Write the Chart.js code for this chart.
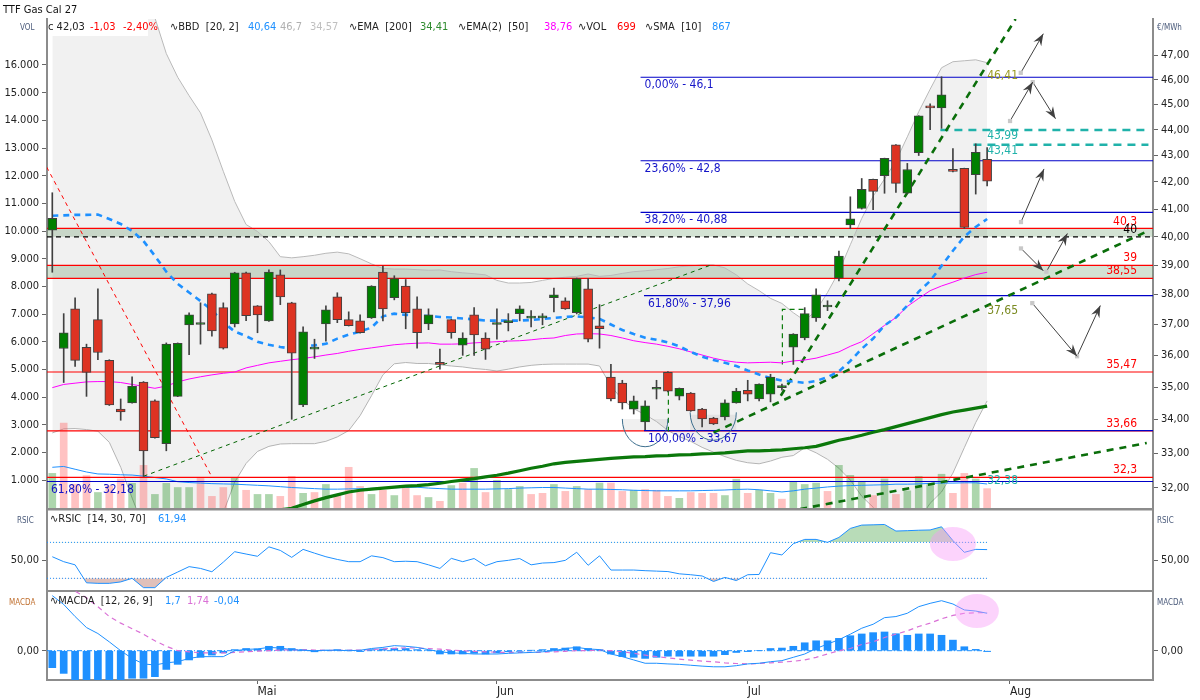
<!DOCTYPE html>
<html><head><meta charset="utf-8">
<title>TTF Gas Cal 27</title>
<script src="https://cdn.jsdelivr.net/npm/chart.js@4.4.1/dist/chart.umd.min.js"></script>
<style>
html,body{margin:0;padding:0;background:#fff;}
body{width:1200px;height:700px;position:relative;overflow:hidden;font-family:"DejaVu Sans Condensed","Liberation Sans",Arial,sans-serif;}
canvas{position:absolute;left:0;}
#c1{top:0}#c2{top:508px}#c3{top:590px}
.t{position:absolute;white-space:nowrap;font-size:11px;line-height:12px;color:#222}
.s{position:absolute;white-space:nowrap;font-size:8px;line-height:9px;color:#4a5a7a}
</style></head><body>
<canvas id="c1" width="1200" height="512"></canvas>
<canvas id="c2" width="1200" height="84"></canvas>
<canvas id="c3" width="1200" height="110"></canvas>
<div style="position:absolute;left:48px;top:19px;width:100px;height:17px;background:#fff"></div>
<div class="t" style="left:3px;top:4px;color:#111">TTF Gas Cal 27</div>
<div class="s" style="left:20px;top:23px">VOL</div>
<div class="s" style="left:1157px;top:23px">€/MWh</div>
<div class="s" style="left:17px;top:516px">RSIC</div>
<div class="s" style="left:1157px;top:516px">RSIC</div>
<div class="s" style="left:9px;top:598px;color:#c07030">MACDA</div>
<div class="s" style="left:1157px;top:598px">MACDA</div>
<div class="t" style="left:48px;top:21px">c 42,03</div>
<div class="t" style="left:90px;top:21px;color:#f00">-1,03</div>
<div class="t" style="left:123px;top:21px;color:#f00">-2,40%</div>
<div class="t" style="left:170px;top:21px">∿BBD&nbsp; [20, 2]</div>
<div class="t" style="left:248px;top:21px;color:#1e90ff">40,64</div>
<div class="t" style="left:280px;top:21px;color:#b0b0b0">46,7</div>
<div class="t" style="left:310px;top:21px;color:#c0c0c0">34,57</div>
<div class="t" style="left:349px;top:21px">∿EMA&nbsp; [200]</div>
<div class="t" style="left:420px;top:21px;color:#2e8b2e">34,41</div>
<div class="t" style="left:458px;top:21px">∿EMA(2)&nbsp; [50]</div>
<div class="t" style="left:544px;top:21px;color:#ff00ff">38,76</div>
<div class="t" style="left:578px;top:21px">∿VOL</div>
<div class="t" style="left:617px;top:21px;color:#f00">699</div>
<div class="t" style="left:645px;top:21px">∿SMA&nbsp; [10]</div>
<div class="t" style="left:712px;top:21px;color:#1e90ff">867</div>
<div class="t" style="left:50px;top:513px">∿RSIC&nbsp; [14, 30, 70]</div>
<div class="t" style="left:158px;top:513px;color:#1e90ff">61,94</div>
<div class="t" style="left:50px;top:595px">∿MACDA&nbsp; [12, 26, 9]</div>
<div class="t" style="left:165px;top:595px;color:#1e90ff">1,7</div>
<div class="t" style="left:187px;top:595px;color:#da70d6">1,74</div>
<div class="t" style="left:214px;top:595px;color:#1e90ff">-0,04</div>
<script>
// ---------------- DATA ----------------
const open = [40.24,36.22,37.52,36.26,37.16,35.84,34.32,34.51,35.15,34.57,
33.28,34.71,36.99,37.00,38.02,37.56,37.02,38.74,37.62,37.12,
38.67,37.72,34.45,36.20,37.02,37.92,37.16,37.12,37.22,38.77,
37.89,38.29,37.52,37.02,35.78,37.16,36.33,37.32,36.56,37.00,
37.06,37.36,37.21,37.22,37.89,37.79,37.39,38.19,36.96,35.31,
35.12,34.32,33.93,34.93,35.46,34.72,34.81,34.32,34.05,34.08,
34.51,34.90,34.63,34.78,34.98,36.26,36.56,37.22,37.58,38.56,
40.43,41.02,42.10,42.24,43.41,41.58,43.11,44.94,44.86,42.47,
42.51,42.27,42.85];
const high = [41.60,37.36,37.89,36.36,38.19,35.86,34.63,35.32,35.17,34.60,
36.40,36.40,37.39,37.72,38.05,37.72,38.76,38.77,37.63,38.84,
38.84,37.74,36.92,36.52,37.62,38.06,37.42,37.32,38.30,38.97,
38.64,38.51,37.92,37.52,36.20,37.17,36.73,37.56,36.73,37.52,
37.36,37.62,37.46,37.36,38.22,37.89,38.56,38.54,37.66,35.71,
35.21,34.72,34.57,35.21,35.48,34.97,34.83,34.34,34.07,34.60,
34.96,35.21,35.10,35.40,35.09,36.70,37.56,38.19,37.79,39.50,
41.45,42.13,42.11,42.90,43.42,42.70,44.55,45.02,46.12,43.27,
42.52,43.45,43.30];
const low = [38.76,35.14,35.65,34.71,35.86,34.43,33.98,34.50,32.33,33.44,
33.07,34.70,36.02,36.36,36.62,36.20,36.92,37.13,36.73,37.10,
37.66,34.01,34.39,35.90,36.46,37.06,36.95,36.72,37.20,37.12,
37.82,36.86,36.23,36.83,35.56,36.55,36.00,36.00,35.87,36.52,
36.79,37.12,36.92,36.99,37.42,37.50,37.35,36.43,36.23,34.57,
34.32,34.17,33.70,34.63,34.85,34.60,34.25,33.78,33.85,33.99,
34.50,34.57,34.57,34.54,34.90,35.71,36.50,37.10,37.46,38.46,
40.29,41.00,40.98,41.58,41.61,41.57,43.00,44.00,44.05,42.38,
40.30,41.55,41.85];
const close = [40.66,36.73,35.84,35.46,36.09,34.45,34.23,35.02,33.07,33.46,
36.36,36.39,37.32,37.03,36.79,36.23,38.74,37.29,37.32,38.77,
37.92,36.07,36.76,36.21,37.49,37.16,36.96,36.73,38.29,37.52,
38.54,37.39,36.73,37.32,35.71,36.73,36.56,36.66,36.20,37.02,
37.07,37.52,37.22,37.24,37.99,37.52,38.54,36.52,36.86,34.63,
34.51,34.57,34.42,34.99,34.87,34.96,34.26,34.02,33.87,34.51,
34.87,34.78,35.09,35.31,35.00,36.69,37.36,37.99,37.60,39.32,
40.65,41.73,41.65,42.89,41.95,42.47,44.54,44.86,45.38,42.40,
40.34,43.12,42.03];
const volume = [1250,3070,860,1170,560,800,1050,890,1540,490,
890,740,740,1070,420,740,1100,640,490,490,
420,1140,530,560,850,490,1470,780,490,640,
450,820,450,380,240,810,900,1430,560,1000,
670,780,490,530,850,600,780,670,900,900,
600,640,670,640,420,350,560,530,530,450,
1040,530,640,530,320,960,850,900,600,1540,
1180,930,450,1050,490,620,1140,840,1220,530,
1250,1050,699];
const volUp = [1,0,0,0,1,0,0,1,0,1, 1,1,1,0,0,0,1,0,1,1, 0,0,1,0,1,0,0,0,1,0,
1,0,0,1,0,1,0,1,0,1, 1,1,0,0,1,0,1,0,1,0, 0,1,0,0,0,1,0,0,0,1,
1,0,1,1,0,1,1,1,0,1, 1,1,0,1,0,1,1,1,1,0, 0,1,0];
const volSma = [1470,1500,1400,1300,1230,1220,1200,1190,1150,1100,
1050,950,920,900,880,870,860,840,820,800,
770,740,720,700,680,680,690,700,710,720,
730,740,750,720,700,680,680,680,680,690,
700,720,730,740,740,720,700,680,680,670,
660,640,630,620,620,620,620,630,640,650,
670,680,660,620,580,620,680,720,760,790,
810,820,830,840,860,860,870,890,900,900,
910,910,867];
const bbUpper = [52.0,53.0,53.5,53.5,53.0,52.5,51.5,50.5,49.6,48.6,
47.08,46.10,45.35,44.66,43.60,42.40,41.28,40.44,40.19,39.83,
39.30,39.26,39.30,39.35,39.42,39.46,39.40,39.23,39.05,38.89,
38.87,38.87,38.85,38.83,38.84,38.78,38.74,38.71,38.67,38.48,
38.39,38.39,38.41,38.48,38.55,38.59,38.62,38.70,38.62,38.65,
38.72,38.78,38.81,38.85,38.89,38.95,38.98,39.01,39.01,38.91,
38.67,38.36,38.13,37.87,37.70,37.39,37.13,37.46,38.07,38.78,
39.72,40.66,41.47,42.11,42.79,43.72,44.71,45.61,46.49,46.74,
46.78,46.82,46.70];
const bbMid = [40.76,40.77,40.79,40.79,40.80,40.64,40.46,40.21,39.85,39.33,
38.78,38.36,38.07,37.78,37.48,37.07,36.77,36.62,36.44,36.34,
36.27,36.21,36.31,36.32,36.37,36.54,36.67,36.77,36.90,37.27,
37.36,37.32,37.31,37.28,37.25,37.23,37.20,37.17,37.13,37.13,
37.13,37.13,37.15,37.18,37.22,37.25,37.27,37.23,37.19,37.00,
36.82,36.69,36.57,36.50,36.42,36.29,36.11,35.96,35.85,35.76,
35.66,35.52,35.39,35.28,35.20,35.17,35.13,35.19,35.31,35.49,
35.82,36.21,36.54,36.97,37.23,37.63,38.10,38.46,38.98,39.51,
40.01,40.35,40.64];
const bbLower = [33.60,33.72,33.73,33.70,33.65,33.32,32.59,31.71,30.90,30.40,
30.10,30.00,30.00,30.20,30.60,31.30,32.16,32.70,33.05,33.20,
33.27,33.28,33.28,33.28,33.35,33.48,33.67,34.12,34.73,35.38,
35.73,35.77,35.74,35.74,35.70,35.66,35.63,35.58,35.55,35.50,
35.56,35.63,35.68,35.71,35.72,35.72,35.72,35.72,35.66,35.03,
34.61,34.33,34.15,33.94,33.67,33.49,33.35,33.17,33.03,32.90,
32.79,32.72,32.69,32.77,32.88,32.93,33.16,33.01,32.82,32.56,
32.22,31.76,31.45,31.10,30.90,30.90,31.10,31.56,31.88,32.42,
33.16,33.91,34.57];
const ema50 = [34.98,35.08,35.12,35.16,35.17,35.17,35.14,35.08,35.02,34.96,
35.03,35.16,35.25,35.32,35.38,35.43,35.47,35.60,35.68,35.76,
35.81,35.86,35.90,35.95,36.01,36.06,36.13,36.19,36.24,36.29,
36.34,36.37,36.39,36.40,36.36,36.36,36.37,36.40,36.42,36.44,
36.46,36.47,36.50,36.54,36.56,36.64,36.69,36.70,36.69,36.64,
36.56,36.47,36.41,36.36,36.29,36.21,36.11,36.01,35.91,35.83,
35.78,35.76,35.77,35.78,35.76,35.82,35.85,35.91,36.01,36.11,
36.29,36.44,36.70,36.97,37.23,37.60,37.87,38.13,38.29,38.42,
38.56,38.68,38.76];
const ema200 = [null,null,null,null,null,null,null,null,null,null,
null,null,null,null,null,null,null,null,null,null,
31.38,31.42,31.53,31.63,31.72,31.80,31.88,31.93,31.96,31.99,
32.02,32.05,32.06,32.09,32.13,32.18,32.22,32.26,32.31,32.36,
32.42,32.49,32.56,32.62,32.69,32.73,32.76,32.79,32.82,32.85,
32.87,32.89,32.90,32.92,32.93,32.95,32.96,32.98,32.99,33.01,
33.04,33.07,33.07,33.08,33.10,33.13,33.16,33.20,33.29,33.38,
33.45,33.53,33.62,33.70,33.79,33.88,33.97,34.06,34.15,34.23,
34.29,34.35,34.41];
const rsi = [54,48.5,45,25,24.4,24.4,26,30,19.6,19.6,
31,37,43,41,37.3,48,59.6,57,54.5,65,
61,53.3,62.2,58,54,51,48.5,48.5,55,53,
48.5,49,48.5,45,41,52.2,48.5,52,44,48.5,
50,52,45,47,47.5,50,59,44.5,55,39.2,
39.2,39.2,38.5,38,37.5,35,34,32.6,26.5,31,
27.5,34,34.3,58.5,56,68.5,73.3,73.3,70,75.5,
85.5,89.2,89.5,89.9,82.6,83,83.5,83.8,87.3,72,
58.9,62.2,61.94];
const macd = [2.5,2.1,1.55,1.05,0.78,0.4,0.0,-0.35,-0.6,-0.65,
-0.55,-0.5,-0.35,-0.27,-0.27,-0.27,0.0,0.06,0.08,0.15,
0.12,0.05,0.02,0.0,0.02,0.02,0.0,0.02,0.1,0.15,
0.23,0.2,0.15,0.05,-0.05,-0.1,-0.12,-0.15,-0.15,-0.15,
-0.12,-0.1,-0.08,-0.05,0.0,0.1,0.15,0.08,0.05,-0.15,
-0.27,-0.42,-0.57,-0.57,-0.6,-0.62,-0.66,-0.7,-0.73,-0.73,
-0.68,-0.6,-0.57,-0.5,-0.45,-0.3,-0.15,0.1,0.3,0.5,
0.75,1.02,1.2,1.5,1.55,1.7,2.0,2.15,2.27,2.12,
1.85,1.8,1.7];
const signal = [3.3,3.0,2.7,2.4,2.0,1.55,1.25,1.0,0.75,0.45,
0.2,0.0,-0.05,-0.1,-0.1,-0.1,-0.08,-0.05,-0.02,0.0,
0.03,0.04,0.04,0.03,0.02,0.02,0.02,0.03,0.05,0.08,
0.11,0.13,0.12,0.1,0.07,0.03,0.0,-0.03,-0.05,-0.07,
-0.08,-0.08,-0.08,-0.07,-0.05,-0.03,0.0,0.01,0.02,0.0,
-0.05,-0.12,-0.2,-0.27,-0.33,-0.38,-0.43,-0.47,-0.5,-0.55,
-0.58,-0.6,-0.58,-0.55,-0.52,-0.48,-0.42,-0.3,-0.15,0.0,
0.1,0.28,0.4,0.6,0.75,0.9,1.1,1.25,1.45,1.6,
1.7,1.72,1.74];
const hist = [-0.77,-1.03,-1.4,-1.4,-1.4,-1.4,-1.4,-1.25,-1.25,-1.18,
-0.85,-0.62,-0.42,-0.3,-0.2,-0.1,0.05,0.1,0.08,0.2,
0.2,0.1,0.05,-0.05,0.02,0.05,0.03,-0.04,0.05,0.08,
0.1,0.1,0.05,0.02,-0.15,-0.15,-0.15,-0.12,-0.15,-0.1,
-0.05,-0.03,0.02,0.05,0.1,0.12,0.18,0.1,0.05,-0.15,
-0.27,-0.3,-0.35,-0.3,-0.25,-0.25,-0.25,-0.25,-0.25,-0.18,
-0.08,-0.04,0.0,0.1,0.12,0.2,0.36,0.45,0.45,0.56,
0.68,0.76,0.82,0.85,0.77,0.7,0.76,0.76,0.7,0.48,
0.18,0.06,-0.04];

const monthLabels = ['Mai','Jun','Jul','Aug'];
const monthPos = [18,39,61,84];
const priceTicks = [32,33,34,35,36,37,38,39,40,41,42,43,44,45,46,47];
const volTicks = [1000,2000,3000,4000,5000,6000,7000,8000,9000,10000,11000,12000,13000,14000,15000,16000];

// support / resistance & fibonacci levels
const redLevels = [40.3, 39, 38.55, 35.47, 33.66, 32.3];
const redNames = ['40,3','39','38,55','35,47','33,66','32,3'];
const pivotLevel = 40;
const fibLevels = [46.1, 42.8, 40.88, 37.96, 33.67, 32.18];
const fibNames = ['0,00% - 46,1','23,60% - 42,8','38,20% - 40,88','61,80% - 37,96','100,00% - 33,67','61,80% - 32,18'];
const fibFrom = [51.6, 51.6, 51.6, 51.9, 51.9, -0.47];
const cyanLevels = [43.99, 43.41];
const cyanFrom = [77.9, 80.8];
const markValues = [46.41, 43.99, 43.41, 37.65, 32.38];
const markNames = ['46,41','43,99','43,41','37,65','32,38'];
const zones = [[40.0, 40.3], [38.55, 39.0]];
const boxes = [[50.0, 54.0, 33.67, 34.02], [55.95, 60.0, 33.67, 34.15]];
const arcs = [[50.0, 54.0, 34.02, 33.19], [55.95, 60.0, 34.22, 33.38]];
const trendRed = [[-0.49, 42.56], [14.0, 32.31]];
const trendThin = [[8.0, 32.33], [57.9, 39.03]];
const trendSteep = [[63.9, 34.73], [84.5, 48.55]];
const trendMid = [[58.0, 33.61], [96.0, 40.19]];
const trendLow = [[65.6, 31.40], [96.0, 33.30]];
const markV1 = [[54.04, 35.45], [54.04, 33.64]];
const markV2 = [[65.9, 37.5], [64.04, 37.5], [64.04, 35.71]];
const arrowSegs = [
  [[84.95,46.28],[86.93,47.92]],
  [[84.01,44.34],[86.0,45.9]],
  [[86.0,45.9],[88.0,44.43]],
  [[84.97,40.53],[86.99,42.49]],
  [[84.97,39.59],[86.93,38.81]],
  [[87.2,38.78],[89.04,40.12]],
  [[85.96,37.71],[89.89,35.97]],
  [[89.89,35.97],[91.93,37.63]]
];
const rsiCircle = [79.0, 68.1];
const macdCircle = [81.1, 1.8];

// ---------------- CHARTS ----------------
const X_MIN = -0.465, X_MAX = 96.55;
const FONT = '"DejaVu Sans Condensed","Liberation Sans",Arial,sans-serif';
Chart.defaults.font.family = FONT;
Chart.defaults.font.size = 11;
Chart.defaults.color = '#222';
Chart.defaults.animation = false;

const xy = arr => arr.map((v, i) => ({x: i, y: v}));
const fmt2 = v => Number(v).toFixed(2).replace('.', ',');
const fmtVol = v => String(v).replace(/\B(?=(\d{3})+(?!\d))/g, '.');
const fitY = s => { s.width = 47; s.paddingTop = 0; s.paddingBottom = 0; };
const setTicks = list => s => { s.ticks = list.map(v => ({value: v})); };
function yAxis(pos, min, max, ticks, cb, type) {
  return {
    type: type || 'linear', position: pos, min: min, max: max,
    afterBuildTicks: setTicks(ticks), afterFit: fitY,
    ticks: {callback: cb, autoSkip: false, padding: 3, color: '#222', font: {size: 11}},
    grid: {drawOnChartArea: false, drawTicks: true, tickLength: 5, color: '#666', offset: false},
    border: {display: true, color: '#8c8c8c', width: 2}
  };
}
const xHidden = {type: 'linear', min: X_MIN, max: X_MAX, display: false, offset: false, grid: {offset: false}};
function seg(pts, color, width, dash, order, axis, extra) {
  return Object.assign({
    type: 'line', yAxisID: axis || 'yP', data: pts.map(p => ({x: p[0], y: p[1]})),
    borderColor: color, borderWidth: width, borderDash: dash || [], pointRadius: 0,
    fill: false, order: order, tension: 0
  }, extra || {});
}
function txt(ctx, s, x, y, color, align, base, size) {
  ctx.font = (size || 12) + 'px ' + FONT;
  ctx.fillStyle = color; ctx.textAlign = align; ctx.textBaseline = base;
  ctx.fillText(s, x, y);
}
const baseOpts = {
  responsive: false, animation: false, events: [],
  plugins: {legend: {display: false}, tooltip: {enabled: false}}
};

// ---- main price chart ----
const idx = open.map((_, i) => i);
const mainDs = [];
mainDs.push({type: 'line', yAxisID: 'yP', data: xy(bbUpper), borderColor: '#b9b9b9', borderWidth: 1, pointRadius: 0, fill: '+1', backgroundColor: 'rgba(0,0,0,0.055)', order: 30});
mainDs.push({type: 'line', yAxisID: 'yP', data: xy(bbLower), borderColor: '#b9b9b9', borderWidth: 1, pointRadius: 0, fill: false, order: 31});
mainDs.push({type: 'bar', yAxisID: 'yV', data: xy(volume), backgroundColor: volUp.map(u => u ? 'rgba(0,128,0,0.32)' : 'rgba(255,70,70,0.33)'), barThickness: 7, grouped: false, order: 20});
mainDs.push({type: 'line', yAxisID: 'yV', data: xy(volSma), borderColor: '#1e90ff', borderWidth: 1, pointRadius: 0, fill: false, order: 19});
redLevels.forEach(v => mainDs.push(seg([[X_MIN, v], [X_MAX, v]], '#ff0000', 1.2, [], 16)));
mainDs.push(seg([[X_MIN, pivotLevel], [X_MAX, pivotLevel]], '#000', 1.2, [5, 4], 16));
fibLevels.forEach((v, k) => mainDs.push(seg([[fibFrom[k], v], [X_MAX, v]], '#0000c8', 1.2, [], 15)));
cyanLevels.forEach((v, k) => mainDs.push(seg([[cyanFrom[k], v], [X_MAX - 0.4, v]], '#20b2aa', 2.5, [8, 6], 14)));
mainDs.push(seg(trendRed, '#ff0000', 1, [4, 4], 13));
mainDs.push(seg(trendThin, '#006400', 1, [4, 4], 13));
mainDs.push(seg(trendSteep, '#0a6e0a', 2.6, [7, 6], 12));
mainDs.push(seg(trendMid, '#0a6e0a', 2.6, [7, 6], 12));
mainDs.push(seg(trendLow, '#0a6e0a', 2.6, [7, 6], 12));
mainDs.push(seg(markV1, '#0a7a0a', 1.2, [5, 4], 12));
mainDs.push(seg(markV2, '#0a7a0a', 1.2, [5, 4], 12));
mainDs.push({type: 'line', yAxisID: 'yP', data: xy(ema200), borderColor: '#0b780b', borderWidth: 3.2, pointRadius: 0, fill: false, order: 10, spanGaps: false});
mainDs.push({type: 'line', yAxisID: 'yP', data: xy(ema50), borderColor: '#ff00ff', borderWidth: 1, pointRadius: 0, fill: false, order: 10});
mainDs.push({type: 'line', yAxisID: 'yP', data: xy(bbMid), borderColor: '#1e90ff', borderWidth: 2.6, borderDash: [6, 5], pointRadius: 0, fill: false, order: 9});
arrowSegs.forEach(s => mainDs.push(seg(s, '#404040', 1, [], 8, 'yP', {
  pointRadius: [3, 0], pointStyle: 'rect', pointBackgroundColor: '#c8c8c8', pointBorderColor: '#c8c8c8', pointBorderWidth: 0
})));
mainDs.push({type: 'bar', yAxisID: 'yP', data: idx.map(i => ({x: i, y: [low[i], high[i]]})), backgroundColor: '#404040', barThickness: 1, grouped: false, order: 2});
mainDs.push({type: 'bar', yAxisID: 'yP', data: idx.map(i => ({x: i, y: [open[i], close[i]]})),
  backgroundColor: idx.map(i => close[i] >= open[i] ? '#008000' : '#dd3322'),
  borderColor: '#404040', borderWidth: 1, borderSkipped: false, barThickness: 9, minBarLength: 2, grouped: false, order: 1});

const mainDecor = {
  id: 'mainDecor',
  beforeDatasetsDraw(chart) {
    const {ctx, chartArea: a, scales: {x, yP}} = chart;
    ctx.save();
    ctx.beginPath(); ctx.rect(a.left, a.top, a.right - a.left, a.bottom - a.top); ctx.clip();
    ctx.fillStyle = 'rgba(110,160,110,0.30)';
    zones.forEach(z => {
      const y0 = yP.getPixelForValue(z[1]), y1 = yP.getPixelForValue(z[0]);
      ctx.fillRect(a.left, y0, a.right - a.left, y1 - y0);
    });
    ctx.fillStyle = 'rgba(0,0,0,0.06)';
    boxes.forEach(b => {
      const x0 = x.getPixelForValue(b[0]), x1 = x.getPixelForValue(b[1]);
      const y0 = yP.getPixelForValue(b[3]), y1 = yP.getPixelForValue(b[2]);
      ctx.fillRect(x0, y0, x1 - x0, y1 - y0);
    });
    ctx.restore();
  },
  afterDatasetsDraw(chart) {
    const {ctx, chartArea: a, scales: {x, yP}} = chart;
    ctx.save();
    ctx.beginPath(); ctx.rect(a.left, a.top, a.right - a.left, a.bottom - a.top); ctx.clip();
    ctx.strokeStyle = '#3d6f8e'; ctx.lineWidth = 1;
    arcs.forEach(c => {
      const x0 = x.getPixelForValue(c[0]), x1 = x.getPixelForValue(c[1]);
      const yt = yP.getPixelForValue(c[2]), yb = yP.getPixelForValue(c[3]);
      ctx.beginPath();
      ctx.ellipse((x0 + x1) / 2, yt, (x1 - x0) / 2, yb - yt, 0, 0, Math.PI);
      ctx.stroke();
    });
    ctx.fillStyle = '#404040';
    arrowSegs.forEach(s => {
      const x0 = x.getPixelForValue(s[0][0]), y0 = yP.getPixelForValue(s[0][1]);
      const x1 = x.getPixelForValue(s[1][0]), y1 = yP.getPixelForValue(s[1][1]);
      const an = Math.atan2(y1 - y0, x1 - x0), c = Math.cos(an), sn = Math.sin(an);
      ctx.beginPath();
      ctx.moveTo(x1, y1);
      ctx.lineTo(x1 - 12 * c + 4.5 * sn, y1 - 12 * sn - 4.5 * c);
      ctx.lineTo(x1 - 8 * c, y1 - 8 * sn);
      ctx.lineTo(x1 - 12 * c - 4.5 * sn, y1 - 12 * sn + 4.5 * c);
      ctx.closePath(); ctx.fill();
    });
    const xr = x.getPixelForValue(95.15);
    redLevels.forEach((v, k) => txt(ctx, redNames[k], xr, yP.getPixelForValue(v) - 1, '#ff0000', 'right', 'bottom'));
    txt(ctx, '40', xr, yP.getPixelForValue(pivotLevel) - 1, '#000', 'right', 'bottom');
    fibLevels.forEach((v, k) => txt(ctx, fibNames[k], Math.max(a.left, x.getPixelForValue(fibFrom[k])) + 4, yP.getPixelForValue(v) + 2, '#1414c8', 'left', 'top'));
    const markColors = ['#9a9a20', '#20b2aa', '#20b2aa', '#7a8a20', '#20b2aa'];
    markValues.forEach((v, k) => txt(ctx, markNames[k], x.getPixelForValue(82), yP.getPixelForValue(v), markColors[k], 'left', 'top'));
    ctx.restore();
    ctx.fillStyle = '#8c8c8c';
    ctx.fillRect(a.left - 1, a.bottom, a.right - a.left + 2, 2.5);
  }
};

new Chart(document.getElementById('c1'), {
  type: 'bar',
  data: {datasets: mainDs},
  options: Object.assign({}, baseOpts, {
    layout: {padding: {top: 19, bottom: 4, left: 0, right: 0}},
    scales: {
      x: xHidden,
      yV: Object.assign(yAxis('left', 0, 17660, volTicks, fmtVol), {axis: 'y'}),
      yP: Object.assign(yAxis('right', 31.43, 48.55, priceTicks, fmt2, 'logarithmic'), {axis: 'y'})
    }
  }),
  plugins: [mainDecor]
});

// ---- RSI chart ----
function ellipsePlugin(id, center, axis, rx, ry) {
  return {
    id: id,
    afterDatasetsDraw(chart) {
      const {ctx, scales} = chart;
      ctx.save();
      ctx.fillStyle = 'rgba(248,150,248,0.42)';
      ctx.beginPath();
      ctx.ellipse(scales.x.getPixelForValue(center[0]), scales[axis].getPixelForValue(center[1]), rx, ry, 0, 0, Math.PI * 2);
      ctx.fill();
      ctx.restore();
    }
  };
}
const frameBottom = {
  id: 'frameBottom',
  afterDraw(chart) {
    const {ctx, chartArea: a} = chart;
    ctx.fillStyle = '#8c8c8c';
    ctx.fillRect(a.left - 1, a.bottom, a.right - a.left + 2, 2.5);
  }
};
new Chart(document.getElementById('c2'), {
  type: 'line',
  data: {datasets: [
    {yAxisID: 'yL', data: xy(rsi), borderColor: '#1e90ff', borderWidth: 1, pointRadius: 0, order: 1,
      fill: {target: {value: 70}, above: 'rgba(0,128,0,0.28)', below: 'rgba(0,0,0,0)'}},
    {yAxisID: 'yL', data: xy(rsi), borderColor: 'rgba(0,0,0,0)', borderWidth: 0, pointRadius: 0, order: 2,
      fill: {target: {value: 30}, above: 'rgba(0,0,0,0)', below: 'rgba(160,60,40,0.32)'}},
    seg([[X_MIN, 70], [82, 70]], '#1e90ff', 1, [1, 2], 3, 'yL'),
    seg([[X_MIN, 30], [82, 30]], '#1e90ff', 1, [1, 2], 3, 'yL')
  ]},
  options: Object.assign({}, baseOpts, {
    layout: {padding: {top: 2, bottom: 2, left: 0, right: 0}},
    scales: {
      x: xHidden,
      yL: Object.assign(yAxis('left', 17, 106, [50], fmt2), {axis: 'y'}),
      yR: Object.assign(yAxis('right', 17, 106, [50], fmt2), {axis: 'y'})
    }
  }),
  plugins: [ellipsePlugin('rsiEll', rsiCircle, 'yL', 23, 17), frameBottom]
});

// ---- MACD chart ----
new Chart(document.getElementById('c3'), {
  type: 'bar',
  data: {datasets: [
    {type: 'line', yAxisID: 'yL', data: xy(macd), borderColor: '#1e90ff', borderWidth: 1, pointRadius: 0, fill: false, order: 1},
    {type: 'line', yAxisID: 'yL', data: xy(signal), borderColor: '#da70d6', borderWidth: 1.2, borderDash: [5, 4], pointRadius: 0, fill: false, order: 2},
    seg([[X_MIN, 0], [82, 0]], '#1e90ff', 1, [5, 2, 1, 2], 3, 'yL'),
    {type: 'bar', yAxisID: 'yL', data: xy(hist), backgroundColor: '#1e90ff', barThickness: 7, grouped: false, order: 4}
  ]},
  options: Object.assign({}, baseOpts, {
    layout: {padding: {top: 1, bottom: 0, left: 0, right: 0}},
    scales: {
      x: {
        type: 'linear', min: X_MIN, max: X_MAX, offset: false, position: 'bottom',
        afterBuildTicks: setTicks(monthPos),
        afterFit: s => { s.height = 20; s.paddingLeft = 0; s.paddingRight = 0; },
        ticks: {callback: v => monthLabels[monthPos.indexOf(v)], autoSkip: false, align: 'start', maxRotation: 0, minRotation: 0, padding: 1, color: '#222', font: {size: 12}},
        grid: {drawOnChartArea: false, drawTicks: true, tickLength: 4, color: '#666', offset: false},
        border: {display: true, color: '#8c8c8c', width: 2}
      },
      yL: Object.assign(yAxis('left', -1.33, 2.71, [0], fmt2), {axis: 'y'}),
      yR: Object.assign(yAxis('right', -1.33, 2.71, [0], fmt2), {axis: 'y'})
    }
  }),
  plugins: [ellipsePlugin('macdEll', macdCircle, 'yL', 22, 17)]
});
</script>
</body></html>
